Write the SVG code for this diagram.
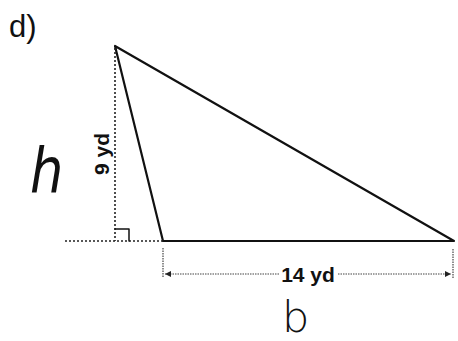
<svg xmlns="http://www.w3.org/2000/svg" width="458" height="341" viewBox="0 0 458 341">
<defs>
<marker id="arr" viewBox="0 0 10 10" refX="10" refY="5" markerWidth="9" markerHeight="6" orient="auto-start-reverse" markerUnits="userSpaceOnUse">
<path d="M0,0 L10,5 L0,10 z" fill="#222"/>
</marker>
<style>
.edge{stroke:#111;stroke-width:2.2;fill:none;stroke-linecap:round;stroke-linejoin:round}
.dot{stroke:#222;stroke-width:1.6;fill:none;stroke-dasharray:2 2}
.thin{stroke:#444;stroke-width:1.2;fill:none;stroke-dasharray:1.5 1}
.lbl{font-family:"Liberation Sans",Arial,sans-serif;font-weight:bold;fill:#111}
.hand{font-family:"DejaVu Sans","Liberation Sans",sans-serif;font-weight:200;fill:#111}
</style>
</defs>
<rect width="458" height="341" fill="#fff"/>
<text x="9" y="37" font-family="Liberation Sans, Arial, sans-serif" font-size="31" fill="#111">d)</text>
<g id="triangle">
<polygon class="edge" points="115,46 163,241 454,241"/>
</g>
<g id="connectors">
<line class="dot" x1="115" y1="48" x2="115" y2="241"/>
<line class="dot" x1="65" y1="241" x2="163" y2="241"/>
<polyline class="edge" style="stroke-width:1.5" points="115,229 129,229 129,241"/>
<line class="thin" x1="163" y1="248" x2="163" y2="278"/>
<line class="thin" x1="453" y1="249" x2="453" y2="278"/>
<line class="thin" x1="165" y1="274" x2="279" y2="274" marker-start="url(#arr)"/>
<line class="thin" x1="338" y1="274" x2="451" y2="274" marker-end="url(#arr)"/>
</g>
<g id="label-height">
<text class="lbl" font-size="21" transform="translate(109,154) rotate(-90)" text-anchor="middle">9 yd</text>
</g>
<g id="label-base">
<text class="lbl" font-size="21" x="308" y="282" text-anchor="middle">14 yd</text>
</g>
<g id="h">
<text class="hand" font-size="62" font-style="italic" transform="translate(30,192) scale(0.85,1)">h</text>
</g>
<g id="b">
<text class="hand" font-size="43" x="282" y="332">b</text>
</g>
</svg>
